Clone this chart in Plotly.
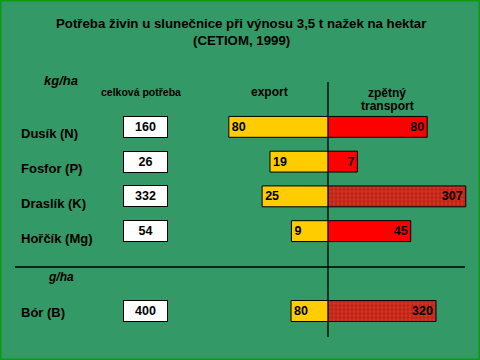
import plotly.graph_objects as go

# ---------------- data ----------------
nutrients_kg = ["Dusík (N)", "Fosfor (P)", "Draslík (K)", "Hořčík (Mg)"]
total_kg = [160, 26, 332, 54]
export_kg = [80, 19, 25, 9]
transport_kg = [80, 7, 307, 45]
hatched_kg = [False, False, True, False]

nutrients_g = ["Bór (B)"]
total_g = [400]
export_g = [80]
transport_g = [320]
hatched_g = [True]

title_lines = ["Potřeba živin u slunečnice při výnosu 3,5 t nažek na hektar", "(CETIOM, 1999)"]
unit_kg = "kg/ha"
unit_g = "g/ha"
col_total = "celková potřeba"
col_export = "export"
col_transport = ["zpětný", "transport"]

# ---------------- style ----------------
W, H = 480, 360
BG = "#339966"
YELLOW = "#FFCC00"
RED = "#FF0000"
FONT = "Liberation Sans, Arial, sans-serif"
CENTER = 328 / W


def px(x):
    return x / W


def py(y):
    return 1 - y / H


fig = go.Figure()


def add_panel(names, exp, trans, hatch, xl, xr, yax):
    pattern = dict(
        shape=["." if h else "" for h in hatch],
        fgcolor="#339966",
        bgcolor=RED,
        size=4,
        solidity=0.6,
    )
    fig.add_trace(go.Bar(
        y=names, x=exp, orientation="h", xaxis=xl, yaxis=yax,
        marker=dict(color=YELLOW, line=dict(color="black", width=1)),
        width=0.6, text=["<b>%d</b>" % v for v in exp], textposition="inside",
        insidetextanchor="end", constraintext="none",
        textfont=dict(family=FONT, size=12.5, color="black"),
        hoverinfo="skip", showlegend=False,
    ))
    fig.add_trace(go.Bar(
        y=names, x=trans, orientation="h", xaxis=xr, yaxis=yax,
        marker=dict(color=RED, pattern=pattern, line=dict(color="black", width=1)),
        width=0.6, text=["<b>%d</b>" % v for v in trans], textposition="inside",
        insidetextanchor="end", constraintext="none",
        textfont=dict(family=FONT, size=12.5, color="black"),
        hoverinfo="skip", showlegend=False,
    ))


add_panel(nutrients_kg, export_kg, transport_kg, hatched_kg, "x", "x2", "y")
add_panel(nutrients_g, export_g, transport_g, hatched_g, "x3", "x4", "y2")

hidden = dict(showgrid=False, zeroline=False, showticklabels=False, ticks="", showline=False, fixedrange=True)

# log scales: ~66 px per decade, baseline 10^0.4 at the centre line
PXDEC = 66.0
A = 0.4
left_px = 328 - 20
right_px = 478 - 328
fig.update_layout(
    xaxis=dict(type="log", domain=[px(20), CENTER], range=[A + left_px / PXDEC, A], anchor="y", **hidden),
    xaxis2=dict(type="log", domain=[CENTER, px(478)], range=[A, A + right_px / PXDEC], anchor="y", **hidden),
    yaxis=dict(domain=[py(248.5), py(109.5)], autorange="reversed", type="category", anchor="x", **hidden),
)
# g/ha panel: separate unit, separate log range
PXDEC_G = 118.0
A_G = 1.59
fig.update_layout(
    xaxis3=dict(type="log", domain=[px(20), CENTER], range=[A_G + left_px / PXDEC_G, A_G], anchor="y2", **hidden),
    xaxis4=dict(type="log", domain=[CENTER, px(478)], range=[A_G, A_G + right_px / PXDEC_G], anchor="y2", **hidden),
    yaxis2=dict(domain=[py(328.5), py(293.5)], autorange="reversed", type="category", anchor="x3", **hidden),
)


def txt(text, x, y, size, xanchor="center", italic=False):
    t = "<b>" + text + "</b>"
    if italic:
        t = "<i>" + t + "</i>"
    return dict(text=t, x=px(x), y=py(y), xref="paper", yref="paper", xanchor=xanchor, yanchor="middle",
                showarrow=False, font=dict(family=FONT, size=size, color="black"))


annotations = [
    txt(title_lines[0], 241, 23, 13.25),
    txt(title_lines[1], 241, 40, 13.25),
    txt(unit_kg, 42, 81, 13, "left", True),
    txt(unit_g, 46, 277, 12, "left", True),
    txt(col_total, 140.5, 92, 10.5),
    txt(col_export, 269, 92, 12),
    txt(col_transport[0], 387, 93, 12),
    txt(col_transport[1], 387, 106, 12),
]

# row labels and total boxes
for names, totals, yref, shift in [(nutrients_kg, total_kg, "y", -7), (nutrients_g, total_g, "y2", -1)]:
    for n, t in zip(names, totals):
        annotations.append(dict(text="<b>" + n + "</b>", x=px(19), y=n, xref="paper", yref=yref,
                                xanchor="left", yanchor="middle", yshift=shift, showarrow=False,
                                font=dict(family=FONT, size=13, color="black")))
        annotations.append(dict(text="<b>" + str(t) + "</b>", x=px(145.5), y=n, xref="paper", yref=yref,
                                xanchor="center", yanchor="middle",
                                showarrow=False, bgcolor="white", bordercolor="black", borderwidth=1,
                                width=41, height=18, yshift=0,
                                font=dict(family=FONT, size=12.5, color="black")))

shapes = [
    # outer border
    dict(type="rect", xref="paper", yref="paper", x0=0, x1=1, y0=0, y1=1,
         line=dict(color="#119911", width=3), layer="above"),
    # centre line
    dict(type="line", xref="paper", yref="paper", x0=CENTER, x1=CENTER, y0=py(82), y1=py(337),
         line=dict(color="black", width=1.3), layer="above"),
    # separator
    dict(type="line", xref="paper", yref="paper", x0=px(15), x1=px(465), y0=py(267), y1=py(267),
         line=dict(color="black", width=1.3)),
]

fig.update_layout(
    width=W, height=H, margin=dict(l=0, r=0, t=0, b=0),
    paper_bgcolor=BG, plot_bgcolor=BG,
    barmode="overlay",
    annotations=annotations, shapes=shapes,
)

fig.write_html(
    "out.html",
    config={"displayModeBar": False, "staticPlot": True},
    post_script="document.body.style.margin='0';document.body.style.padding='0';",
)
